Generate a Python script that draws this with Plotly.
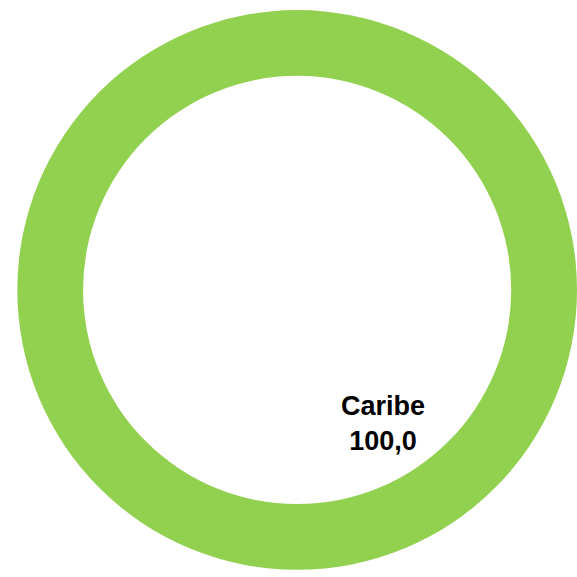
import plotly.graph_objects as go

# Regional share (single region)
labels = ["Caribe"]
values = [100.0]
colors = ["#92D050"]

fig = go.Figure()
fig.add_trace(go.Pie(
    labels=labels,
    values=values,
    hole=0.765,
    marker=dict(colors=colors, line=dict(width=0)),
    textinfo="none",
    hoverinfo="label+value",
    sort=False,
    direction="clockwise",
    showlegend=False,
    domain=dict(x=[0.03, 1.0], y=[0.0, 0.995]),
))

# Data label for each slice
for lab, val in zip(labels, values):
    txt = f"{lab}<br>{val:.1f}".replace(".", ",")
    fig.add_annotation(
        x=383 / 577, y=1 - 423 / 577, xref="paper", yref="paper",
        text=txt, showarrow=False,
        font=dict(family="Liberation Sans Narrow, Arial Narrow, Liberation Sans, Arial",
                  size=27, color="#000000", weight="bold"),
        align="center", xanchor="center", yanchor="middle",
    )

fig.update_layout(
    width=577, height=577,
    margin=dict(l=0, r=0, t=0, b=0),
    paper_bgcolor="white", plot_bgcolor="white",
)

fig.write_html("out.html")
